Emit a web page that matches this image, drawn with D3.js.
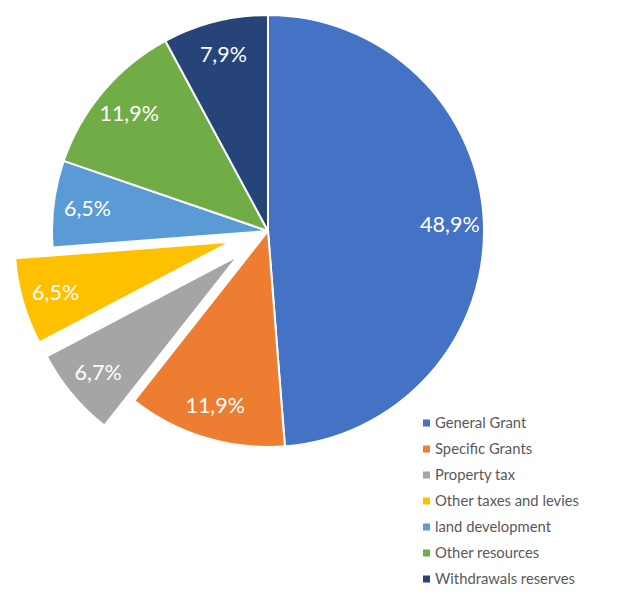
<!DOCTYPE html>
<html><head><meta charset="utf-8">
<script src="https://cdn.jsdelivr.net/npm/d3@7"></script>
<style>body{margin:0;background:#fff;} svg{display:block;}</style>
</head><body>
<script>
const categories = ["General Grant","Specific Grants","Property tax","Other taxes and levies","land development","Other resources","Withdrawals reserves"];
const values = [48.9, 11.9, 6.7, 6.5, 6.5, 11.9, 7.9];
const exploded = [false, false, true, true, false, false, false];
const colors = ["#4472C4","#ED7D31","#A5A5A5","#FFC000","#5B9BD5","#70AD47","#264478"];

const W = 627, H = 594;
const cx = 268, cy = 231, R = 216, explode = 39, labelR = 182;

const svg = d3.select("body").append("svg").attr("width", W).attr("height", H);
const g = svg.append("g").attr("transform", `translate(${cx},${cy})`);

const data = categories.map((c, i) => ({cat: c, value: values[i], exploded: exploded[i], color: colors[i]}));
const pie = d3.pie().value(d => d.value).sort(null);
const arcs = pie(data);
const arc = d3.arc().innerRadius(0).outerRadius(R);
const fmt = v => d3.format(".1f")(v).replace(".", ",") + "%";

function shift(d) {
  if (!d.data.exploded) return [0, 0];
  const a = (d.startAngle + d.endAngle) / 2;
  return [Math.sin(a) * explode, -Math.cos(a) * explode];
}

const slices = g.selectAll("g.slice").data(arcs).join("g")
  .attr("class", "slice")
  .attr("transform", d => { const s = shift(d); return `translate(${s[0]},${s[1]})`; });

slices.append("path").attr("d", arc)
  .attr("fill", d => d.data.color)
  .attr("stroke", "#fff").attr("stroke-width", 2).attr("stroke-linejoin", "round");

slices.append("text")
  .attr("transform", d => {
    const a = (d.startAngle + d.endAngle) / 2;
    return `translate(${Math.sin(a) * labelR},${-Math.cos(a) * labelR})`;
  })
  .attr("text-anchor", "middle").attr("dy", "0.36em")
  .attr("fill", "#fff").attr("font-family", "Lato, 'Open Sans', sans-serif").attr("font-size", 21.5)
  .text(d => fmt(d.data.value));

const legend = svg.append("g").attr("transform", "translate(423,423)");
const rows = legend.selectAll("g").data(data).join("g")
  .attr("transform", (d, i) => `translate(0,${i * 26})`);
rows.append("rect").attr("x", 0).attr("y", -3.5).attr("width", 7).attr("height", 7).attr("fill", d => d.color);
rows.append("text").attr("x", 12).attr("dy", "0.36em")
  .attr("fill", "#595959").attr("font-family", "Lato, 'Open Sans', sans-serif").attr("font-size", 14.8)
  .text(d => d.cat);
</script>
</body></html>
